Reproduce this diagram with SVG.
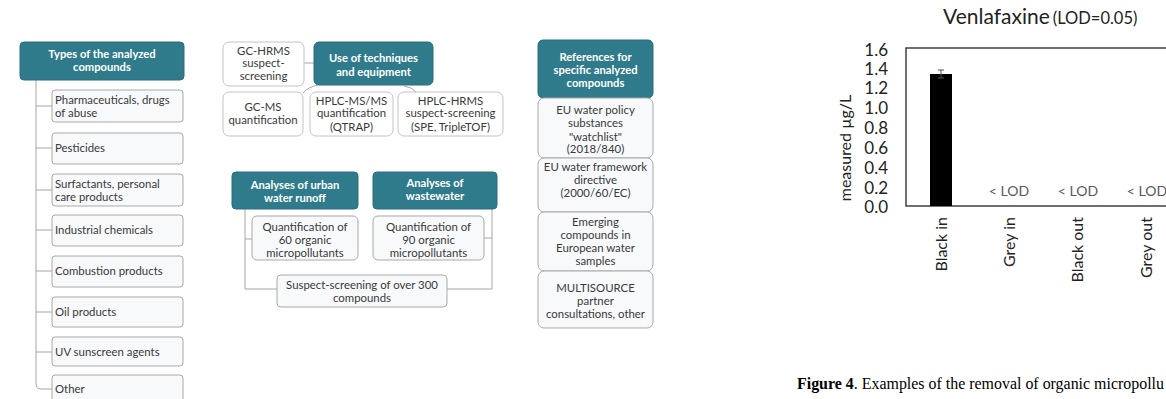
<svg xmlns="http://www.w3.org/2000/svg" width="1166" height="399" viewBox="0 0 1166 399">
  <style>
    .hdr { fill: #2f7b8b; stroke: #2a6e7d; stroke-width: 1; }
    .hdr-t { font-family: Lato, "Open Sans", sans-serif; font-size: 11.2px; font-weight: bold; fill: #ffffff; text-anchor: middle; }
    .item { fill: #f7f9fa; stroke: #a9a9a9; stroke-width: 1; }
    .card { fill: #ffffff; stroke: #c4c4c4; stroke-width: 1; }
    .t { font-family: Lato, "Open Sans", sans-serif; font-size: 11.4px; fill: #3a3a3a; }
    .c { text-anchor: middle; }
    .link { fill: none; stroke: #a6a6a6; stroke-width: 1; }
    .ax { font-family: Lato, "Open Sans", sans-serif; fill: #222222; }
  </style>

  <rect width="1166" height="399" fill="#ffffff"/>

  <!-- connectors -->
  <g id="connectors" class="link">
    <!-- compound types tree -->
    <path d="M36,80 V384 Q36,389 41,389 H52"/>
    <path d="M36,106 H52 M36,148 H52 M36,190 H52 M36,230 H52 M36,271 H52 M36,312 H52 M36,352 H52"/>
    <!-- techniques -->
    <path d="M304,63 H314"/>
    <path d="M303,93 Q308,87 318,85"/>
    <path d="M404,86 Q412,87 416,92"/>
    <!-- analyses -->
    <path d="M245,209 V289 H277"/>
    <path d="M245,239 H252"/>
    <path d="M492,209 V289 H447"/>
    <path d="M484,238 H492"/>
  </g>

  <!-- types of analyzed compounds -->
  <g id="types-header">
    <rect class="hdr" x="20" y="42" width="164" height="38" rx="4"/>
    <text class="hdr-t" x="102" y="58">Types of the analyzed</text>
    <text class="hdr-t" x="102" y="71">compounds</text>
  </g>
  <g id="type-pharma">
    <rect class="item" x="52" y="90" width="131" height="32" rx="3"/>
    <text class="t" x="55" y="104">Pharmaceuticals, drugs</text>
    <text class="t" x="55" y="117">of abuse</text>
  </g>
  <g id="type-pesticides">
    <rect class="item" x="52" y="133" width="131" height="31" rx="3"/>
    <text class="t" x="55" y="152">Pesticides</text>
  </g>
  <g id="type-surfactants">
    <rect class="item" x="52" y="174" width="131" height="32" rx="3"/>
    <text class="t" x="55" y="188">Surfactants, personal</text>
    <text class="t" x="55" y="201">care products</text>
  </g>
  <g id="type-industrial">
    <rect class="item" x="52" y="215" width="131" height="31" rx="3"/>
    <text class="t" x="55" y="234">Industrial chemicals</text>
  </g>
  <g id="type-combustion">
    <rect class="item" x="52" y="256" width="131" height="31" rx="3"/>
    <text class="t" x="55" y="275">Combustion products</text>
  </g>
  <g id="type-oil">
    <rect class="item" x="52" y="297" width="131" height="30" rx="3"/>
    <text class="t" x="55" y="316">Oil products</text>
  </g>
  <g id="type-uv">
    <rect class="item" x="52" y="337" width="131" height="29" rx="3"/>
    <text class="t" x="55" y="356">UV sunscreen agents</text>
  </g>
  <g id="type-other">
    <rect class="item" x="52" y="375" width="131" height="32" rx="3"/>
    <text class="t" x="55" y="393">Other</text>
  </g>

  <!-- techniques and equipment -->
  <g id="gc-hrms">
    <rect class="card" x="223" y="42" width="81" height="44" rx="6"/>
    <text class="t c" x="263.5" y="55">GC-HRMS</text>
    <text class="t c" x="263.5" y="67">suspect-</text>
    <text class="t c" x="263.5" y="80">screening</text>
  </g>
  <g id="techniques-header">
    <rect class="hdr" x="314" y="42" width="119" height="43" rx="5"/>
    <text class="hdr-t" x="373.5" y="61.5">Use of techniques</text>
    <text class="hdr-t" x="373.5" y="75.5">and equipment</text>
  </g>
  <g id="gc-ms">
    <rect class="card" x="223" y="92" width="80" height="44" rx="6"/>
    <text class="t c" x="263" y="111">GC-MS</text>
    <text class="t c" x="263" y="124">quantification</text>
  </g>
  <g id="hplc-msms">
    <rect class="card" x="310" y="92" width="83" height="44" rx="6"/>
    <text class="t c" x="351.5" y="105">HPLC-MS/MS</text>
    <text class="t c" x="351.5" y="117">quantification</text>
    <text class="t c" x="351.5" y="130.5">(QTRAP)</text>
  </g>
  <g id="hplc-hrms">
    <rect class="card" x="398" y="92" width="105" height="44" rx="6"/>
    <text class="t c" x="450.5" y="105">HPLC-HRMS</text>
    <text class="t c" x="450.5" y="117">suspect-screening</text>
    <text class="t c" x="450.5" y="130.5">(SPE, TripleTOF)</text>
  </g>

  <!-- analyses -->
  <g id="runoff-header">
    <rect class="hdr" x="232" y="172" width="126" height="37" rx="4"/>
    <text class="hdr-t" x="295" y="189">Analyses of urban</text>
    <text class="hdr-t" x="295" y="201.5">water runoff</text>
  </g>
  <g id="wastewater-header">
    <rect class="hdr" x="373" y="172" width="124" height="37" rx="4"/>
    <text class="hdr-t" x="435" y="187">Analyses of</text>
    <text class="hdr-t" x="435" y="200">wastewater</text>
  </g>
  <g id="quant-60">
    <rect class="item" x="252" y="216" width="106" height="44" rx="5"/>
    <text class="t c" x="305" y="231">Quantification of</text>
    <text class="t c" x="305" y="244">60 organic</text>
    <text class="t c" x="305" y="257">micropollutants</text>
  </g>
  <g id="quant-90">
    <rect class="item" x="373" y="216" width="111" height="44" rx="5"/>
    <text class="t c" x="428.5" y="231">Quantification of</text>
    <text class="t c" x="428.5" y="244">90 organic</text>
    <text class="t c" x="428.5" y="257">micropollutants</text>
  </g>
  <g id="suspect-300">
    <rect class="item" x="277" y="275" width="170" height="32" rx="4"/>
    <text class="t c" x="362" y="289">Suspect-screening of over 300</text>
    <text class="t c" x="362" y="302">compounds</text>
  </g>

  <!-- references -->
  <g id="references-header">
    <rect class="hdr" x="538" y="40" width="115" height="58" rx="5"/>
    <text class="hdr-t" x="595.5" y="61">References for</text>
    <text class="hdr-t" x="595.5" y="74">specific analyzed</text>
    <text class="hdr-t" x="595.5" y="87">compounds</text>
  </g>
  <g id="ref-watchlist">
    <rect class="item" x="538" y="98" width="115" height="60" rx="6"/>
    <text class="t c" x="595.5" y="114">EU water policy</text>
    <text class="t c" x="595.5" y="127">substances</text>
    <text class="t c" x="595.5" y="140.5">"watchlist"</text>
    <text class="t c" x="595.5" y="153">(2018/840)</text>
  </g>
  <g id="ref-wfd">
    <rect class="item" x="538" y="158" width="115" height="54" rx="6"/>
    <text class="t c" x="595.5" y="171">EU water framework</text>
    <text class="t c" x="595.5" y="184">directive</text>
    <text class="t c" x="595.5" y="197">(2000/60/EC)</text>
  </g>
  <g id="ref-emerging">
    <rect class="item" x="538" y="212" width="115" height="59" rx="6"/>
    <text class="t c" x="595.5" y="226">Emerging</text>
    <text class="t c" x="595.5" y="239">compounds in</text>
    <text class="t c" x="595.5" y="252">European water</text>
    <text class="t c" x="595.5" y="265">samples</text>
  </g>
  <g id="ref-multisource">
    <rect class="item" x="538" y="271" width="115" height="57" rx="6"/>
    <text class="t c" x="595.5" y="292">MULTISOURCE</text>
    <text class="t c" x="595.5" y="305">partner</text>
    <text class="t c" x="595.5" y="317.5">consultations, other</text>
  </g>

  <!-- bar chart -->
  <g id="chart">
    <text class="ax" x="943" y="24" font-size="21">Venlafaxine<tspan font-size="16.5" dx="3">(LOD=0.05)</tspan></text>
    <g class="ax" font-size="17" text-anchor="end">
      <text x="888" y="56">1.6</text>
      <text x="888" y="75">1.4</text>
      <text x="888" y="94">1.2</text>
      <text x="888" y="114">1.0</text>
      <text x="888" y="134">0.8</text>
      <text x="888" y="154">0.6</text>
      <text x="888" y="174">0.4</text>
      <text x="888" y="194">0.2</text>
      <text x="888" y="213">0.0</text>
    </g>
    <text class="ax" font-size="16" text-anchor="middle" transform="translate(851,148) rotate(-90)">measured µg/L</text>
    <rect x="906" y="48" width="300" height="158" fill="none" stroke="#404040" stroke-width="1.5"/>
    <rect x="930" y="74" width="22" height="132" fill="#000000"/>
    <path d="M941,70 V78 M938,70 H944 M938,78 H944" stroke="#555555" stroke-width="1" fill="none"/>
    <g class="ax" font-size="14" text-anchor="middle">
      <text x="1009" y="196" fill="#595959">&lt; LOD</text>
      <text x="1078" y="196" fill="#595959">&lt; LOD</text>
      <text x="1147" y="196" fill="#595959">&lt; LOD</text>
    </g>
    <g class="ax" font-size="16" text-anchor="end">
      <text transform="translate(947,217) rotate(-90)">Black in</text>
      <text transform="translate(1015,217) rotate(-90)">Grey in</text>
      <text transform="translate(1083,217) rotate(-90)">Black out</text>
      <text transform="translate(1152,217) rotate(-90)">Grey out</text>
    </g>
  </g>

  <!-- caption -->
  <text x="797" y="389" font-family="'Liberation Serif', serif" font-size="16" textLength="367" lengthAdjust="spacingAndGlyphs" fill="#000000"><tspan font-weight="bold">Figure 4</tspan>. Examples of the removal of organic micropollu</text>
</svg>
